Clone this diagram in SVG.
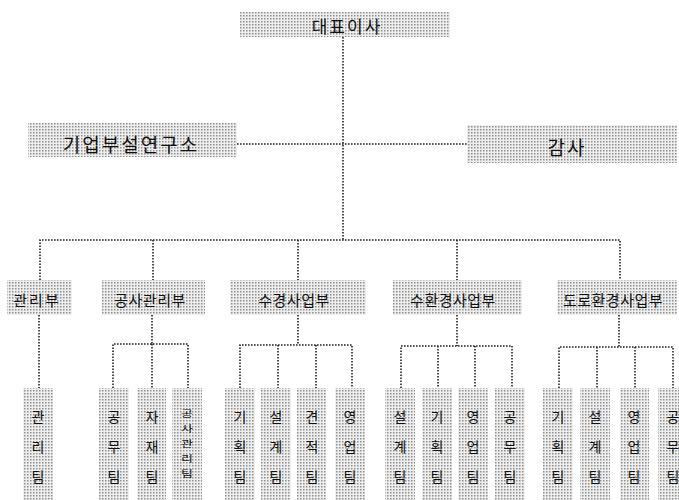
<svg xmlns="http://www.w3.org/2000/svg" width="679" height="500" viewBox="0 0 679 500">
<defs>
<pattern id="ht" width="3" height="3" patternUnits="userSpaceOnUse">
<rect width="3" height="3" fill="#eeeeee"/>
<rect width="1.5" height="1.5" fill="#8f8f8f"/>
</pattern>
<style>
.box{fill:url(#ht);}
.t{font-family:"Noto Sans CJK KR","Noto Sans",sans-serif;fill:#111;text-anchor:middle;dominant-baseline:central;}
.top{font-size:17px;letter-spacing:2px;}
.mid{font-size:19px;letter-spacing:2px;}
.dept{font-size:15px;letter-spacing:0.5px;}
.team{font-size:14px;}
.small{font-size:13px;}
.c{fill:none;stroke:#222;stroke-width:1.6;stroke-dasharray:1.6 1.4;}
</style>
</defs>
<rect width="679" height="500" fill="#ffffff"/>

<g id="connectors">
<path class="c" d="M343 37 V240"/>
<path class="c" d="M237 144 H467"/>
<path class="c" d="M40 280 V240 H620 V280"/>
<path class="c" d="M153 240 V280 M298 240 V280 M457 240 V280"/>
<path class="c" d="M39 315 V388"/>
<path class="c" d="M152 315 V344 M113 388 V344 H188 V388 M152 344 V388"/>
<path class="c" d="M298 315 V345 M240 388 V345 H352 V388 M278 345 V388 M316 345 V388"/>
<path class="c" d="M457 315 V346 M401 388 V346 H512 V388 M438 346 V388 M475 346 V388"/>
<path class="c" d="M619 315 V347 M559 388 V347 H673 V388 M597 347 V388 M635 347 V388"/>
</g>

<g id="ceo"><rect class="box" x="240" y="12" width="210" height="25"/><text class="t top" x="347" y="25">대표이사</text></g>
<g id="lab"><rect class="box" x="28" y="123" width="209" height="34"/><text class="t mid" x="131" y="143">기업부설연구소</text></g>
<g id="audit"><rect class="box" x="467" y="125" width="210" height="38"/><text class="t mid" x="567" y="146">감사</text></g>

<g id="dept-admin"><rect class="box" x="7" y="280" width="65" height="35"/><text class="t dept" x="37" y="299" style="letter-spacing:2px">관리부</text></g>
<g id="dept-const"><rect class="box" x="102" y="280" width="103" height="35"/><text class="t dept" x="150" y="299">공사관리부</text></g>
<g id="dept-sugyeong"><rect class="box" x="230" y="280" width="136" height="35"/><text class="t dept" x="294" y="299">수경사업부</text></g>
<g id="dept-suhwan"><rect class="box" x="393" y="280" width="129" height="35"/><text class="t dept" x="453" y="299">수환경사업부</text></g>
<g id="dept-road"><rect class="box" x="557" y="280" width="120" height="35"/><text class="t dept" x="613" y="299">도로환경사업부</text></g>

<g id="team-admin"><rect class="box" x="23" y="388" width="30" height="112"/><text class="t team"><tspan x="38" y="416">관</tspan><tspan x="38" y="446">리</tspan><tspan x="38" y="476">팀</tspan></text></g>
<g id="team-c1"><rect class="box" x="99" y="388" width="30" height="112"/><text class="t team"><tspan x="114" y="416">공</tspan><tspan x="114" y="446">무</tspan><tspan x="114" y="476">팀</tspan></text></g>
<g id="team-c2"><rect class="box" x="137" y="388" width="29" height="112"/><text class="t team"><tspan x="152" y="416">자</tspan><tspan x="152" y="446">재</tspan><tspan x="152" y="476">팀</tspan></text></g>
<g id="team-c3"><rect class="box" x="172" y="388" width="30" height="112"/>
<text class="t small" transform="matrix(1 0 0 0.72 187 413)">공</text>
<text class="t small" transform="matrix(1 0 0 0.72 187 428)">사</text>
<text class="t small" transform="matrix(1 0 0 0.72 187 443)">관</text>
<text class="t small" transform="matrix(1 0 0 0.72 187 458)">리</text>
<text class="t small" transform="matrix(1 0 0 0.72 187 473)">팀</text>
</g>

<g id="team-s1"><rect class="box" x="225" y="388" width="30" height="112"/><text class="t team"><tspan x="240" y="416">기</tspan><tspan x="240" y="446">획</tspan><tspan x="240" y="476">팀</tspan></text></g>
<g id="team-s2"><rect class="box" x="261" y="388" width="30" height="112"/><text class="t team"><tspan x="276" y="416">설</tspan><tspan x="276" y="446">계</tspan><tspan x="276" y="476">팀</tspan></text></g>
<g id="team-s3"><rect class="box" x="297" y="388" width="29" height="112"/><text class="t team"><tspan x="312" y="416">견</tspan><tspan x="312" y="446">적</tspan><tspan x="312" y="476">팀</tspan></text></g>
<g id="team-s4"><rect class="box" x="335" y="388" width="30" height="112"/><text class="t team"><tspan x="350" y="416">영</tspan><tspan x="350" y="446">업</tspan><tspan x="350" y="476">팀</tspan></text></g>

<g id="team-h1"><rect class="box" x="385" y="388" width="30" height="112"/><text class="t team"><tspan x="400" y="416">설</tspan><tspan x="400" y="446">계</tspan><tspan x="400" y="476">팀</tspan></text></g>
<g id="team-h2"><rect class="box" x="422" y="388" width="30" height="112"/><text class="t team"><tspan x="437" y="416">기</tspan><tspan x="437" y="446">획</tspan><tspan x="437" y="476">팀</tspan></text></g>
<g id="team-h3"><rect class="box" x="458" y="388" width="30" height="112"/><text class="t team"><tspan x="473" y="416">영</tspan><tspan x="473" y="446">업</tspan><tspan x="473" y="476">팀</tspan></text></g>
<g id="team-h4"><rect class="box" x="495" y="388" width="30" height="112"/><text class="t team"><tspan x="510" y="416">공</tspan><tspan x="510" y="446">무</tspan><tspan x="510" y="476">팀</tspan></text></g>

<g id="team-r1"><rect class="box" x="543" y="388" width="30" height="112"/><text class="t team"><tspan x="558" y="416">기</tspan><tspan x="558" y="446">획</tspan><tspan x="558" y="476">팀</tspan></text></g>
<g id="team-r2"><rect class="box" x="580" y="388" width="30" height="112"/><text class="t team"><tspan x="595" y="416">설</tspan><tspan x="595" y="446">계</tspan><tspan x="595" y="476">팀</tspan></text></g>
<g id="team-r3"><rect class="box" x="620" y="388" width="29" height="112"/><text class="t team"><tspan x="634" y="416">영</tspan><tspan x="634" y="446">업</tspan><tspan x="634" y="476">팀</tspan></text></g>
<g id="team-r4"><rect class="box" x="658" y="388" width="30" height="112"/><text class="t team"><tspan x="673" y="416">공</tspan><tspan x="673" y="446">무</tspan><tspan x="673" y="476">팀</tspan></text></g>
</svg>
